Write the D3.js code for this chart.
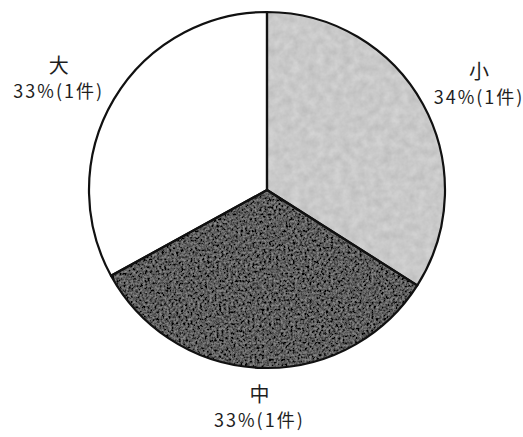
<!DOCTYPE html>
<html>
<head>
<meta charset="utf-8">
<script src="https://cdn.jsdelivr.net/npm/d3@7"></script>
<style>
  html, body { margin: 0; padding: 0; background: #fff; }
  svg { display: block; }
  text { font-family: "Noto Sans CJK JP", "Noto Sans", sans-serif; fill: #1e1e1e; }
</style>
</head>
<body>
<svg id="chart" width="523" height="437"></svg>
<script>
// Size categories and their shares
const categories = ["小", "中", "大"];
const percents = [34, 33, 33];
const counts = [1, 1, 1];

const width = 523, height = 437;
const cx = 267, cy = 190, radius = 178;

const svg = d3.select("#chart");
const defs = svg.append("defs");

// Grainy fills: fractal noise mixed into the flat slice colour
function grainFilter(id, amp, freq, seed) {
  const f = defs.append("filter").attr("id", id)
    .attr("x", 0).attr("y", 0).attr("width", 1).attr("height", 1);
  f.append("feTurbulence").attr("type", "fractalNoise")
    .attr("baseFrequency", freq).attr("numOctaves", 3).attr("seed", seed).attr("result", "n");
  f.append("feColorMatrix").attr("in", "n").attr("type", "matrix")
    .attr("values", "1 0 0 0 0  1 0 0 0 0  1 0 0 0 0  0 0 0 0 1").attr("result", "g");
  f.append("feComposite").attr("in", "SourceGraphic").attr("in2", "g")
    .attr("operator", "arithmetic")
    .attr("k1", 0).attr("k2", 1).attr("k3", amp).attr("k4", -amp / 2).attr("result", "m");
  f.append("feComposite").attr("in", "m").attr("in2", "SourceAlpha").attr("operator", "in");
}
grainFilter("grainLight", 0.2, 0.12, 4);
grainFilter("grainDark", 0.5, 0.42, 9);

const fill = d3.scaleOrdinal(categories, ["#c9c9c9", "#5c5c5c", "#ffffff"]);
const grain = d3.scaleOrdinal(categories, ["url(#grainLight)", "url(#grainDark)", null]);

const data = categories.map((c, i) => ({ cat: c, pct: percents[i], n: counts[i] }));
const pie = d3.pie().sort(null).value(d => d.pct);
const arcs = pie(data);
const arc = d3.arc().innerRadius(0).outerRadius(radius);

const g = svg.append("g").attr("transform", `translate(${cx},${cy})`);

// slice fills
g.selectAll("path.fill").data(arcs).join("path")
  .attr("class", "fill")
  .attr("d", arc)
  .attr("fill", d => fill(d.data.cat))
  .attr("filter", d => grain(d.data.cat));

// slice outlines
g.selectAll("path.edge").data(arcs).join("path")
  .attr("class", "edge")
  .attr("d", arc)
  .attr("fill", "none")
  .attr("stroke", "#111")
  .attr("stroke-width", 2.2)
  .attr("stroke-linejoin", "round");

// labels around the pie on an elliptical ring
const labelRx = 242, labelRy = 218;
const lab = g.selectAll("g.label").data(arcs).join("g")
  .attr("class", "label")
  .attr("transform", d => {
    const a = (d.startAngle + d.endAngle) / 2;
    return `translate(${labelRx * Math.sin(a)},${-labelRy * Math.cos(a)})`;
  });
lab.append("text")
  .attr("text-anchor", "middle")
  .attr("y", -13)
  .attr("dy", "0.35em")
  .attr("font-size", 20)
  .text(d => d.data.cat);
lab.append("text")
  .attr("text-anchor", "middle")
  .attr("y", 13)
  .attr("dy", "0.35em")
  .attr("font-size", 18)
  .attr("letter-spacing", 2)
  .text(d => `${d.data.pct}%(${d.data.n}件)`);
</script>
</body>
</html>
